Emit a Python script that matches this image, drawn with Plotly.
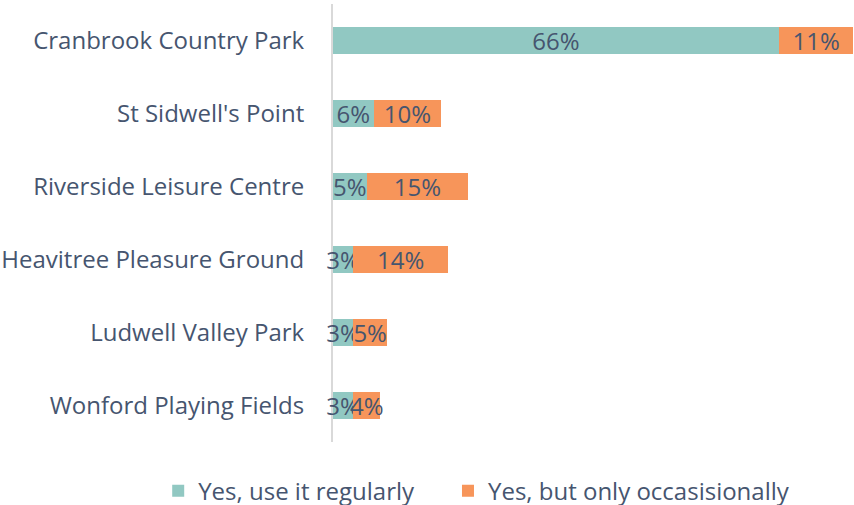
import plotly.graph_objects as go

categories = ["Cranbrook Country Park", "St Sidwell's Point", "Riverside Leisure Centre",
              "Heavitree Pleasure Ground", "Ludwell Valley Park", "Wonford Playing Fields"]
regular = [66, 6, 5, 3, 3, 3]
occasional = [11, 10, 15, 14, 5, 4]
series_names = ["Yes, use it regularly", "Yes, but only occasisionally"]

TEXT = "#46556F"
FONT = "Open Sans"
FS = 24

fig = go.Figure()
for name, vals, col, lg in [(series_names[0], regular, "#91C8C2", "legend"),
                            (series_names[1], occasional, "#F7955A", "legend2")]:
    fig.add_trace(go.Bar(
        y=categories, x=vals, name=name, orientation="h", legend=lg,
        marker=dict(color=col, line=dict(width=0)),
        text=[f"{v}%" for v in vals], textposition="inside", textangle=0,
        insidetextanchor="middle", constraintext="none", cliponaxis=False,
        textfont=dict(color=TEXT, size=FS, family=FONT),
        hoverinfo="skip",
    ))

legend_common = dict(orientation="h", xanchor="left", y=-0.112, yanchor="middle",
                     font=dict(size=FS, color=TEXT, family=FONT), itemwidth=30,
                     bgcolor="rgba(0,0,0,0)")

fig.update_layout(
    barmode="stack", bargap=0.64,
    width=854, height=505,
    margin=dict(l=333, r=0, t=4, b=63, autoexpand=False),
    plot_bgcolor="white", paper_bgcolor="white",
    font=dict(family=FONT, color=TEXT, size=FS),
    xaxis=dict(range=[0, 77.1], showgrid=False, showticklabels=False, zeroline=False,
               showline=False, fixedrange=True),
    yaxis=dict(autorange="reversed", showgrid=False, showline=True, linecolor="#D9D9D9",
               linewidth=2, ticks="", ticklabelstandoff=22, automargin=False,
               layer="below traces", fixedrange=True,
               tickfont=dict(size=FS, color=TEXT, family=FONT)),
    legend=dict(x=-0.3355, **legend_common),
    legend2=dict(x=0.2207, **legend_common),
    showlegend=True,
)

fig.write_html("out.html", config={"displayModeBar": False},
               post_script="document.body.style.margin='0';")
